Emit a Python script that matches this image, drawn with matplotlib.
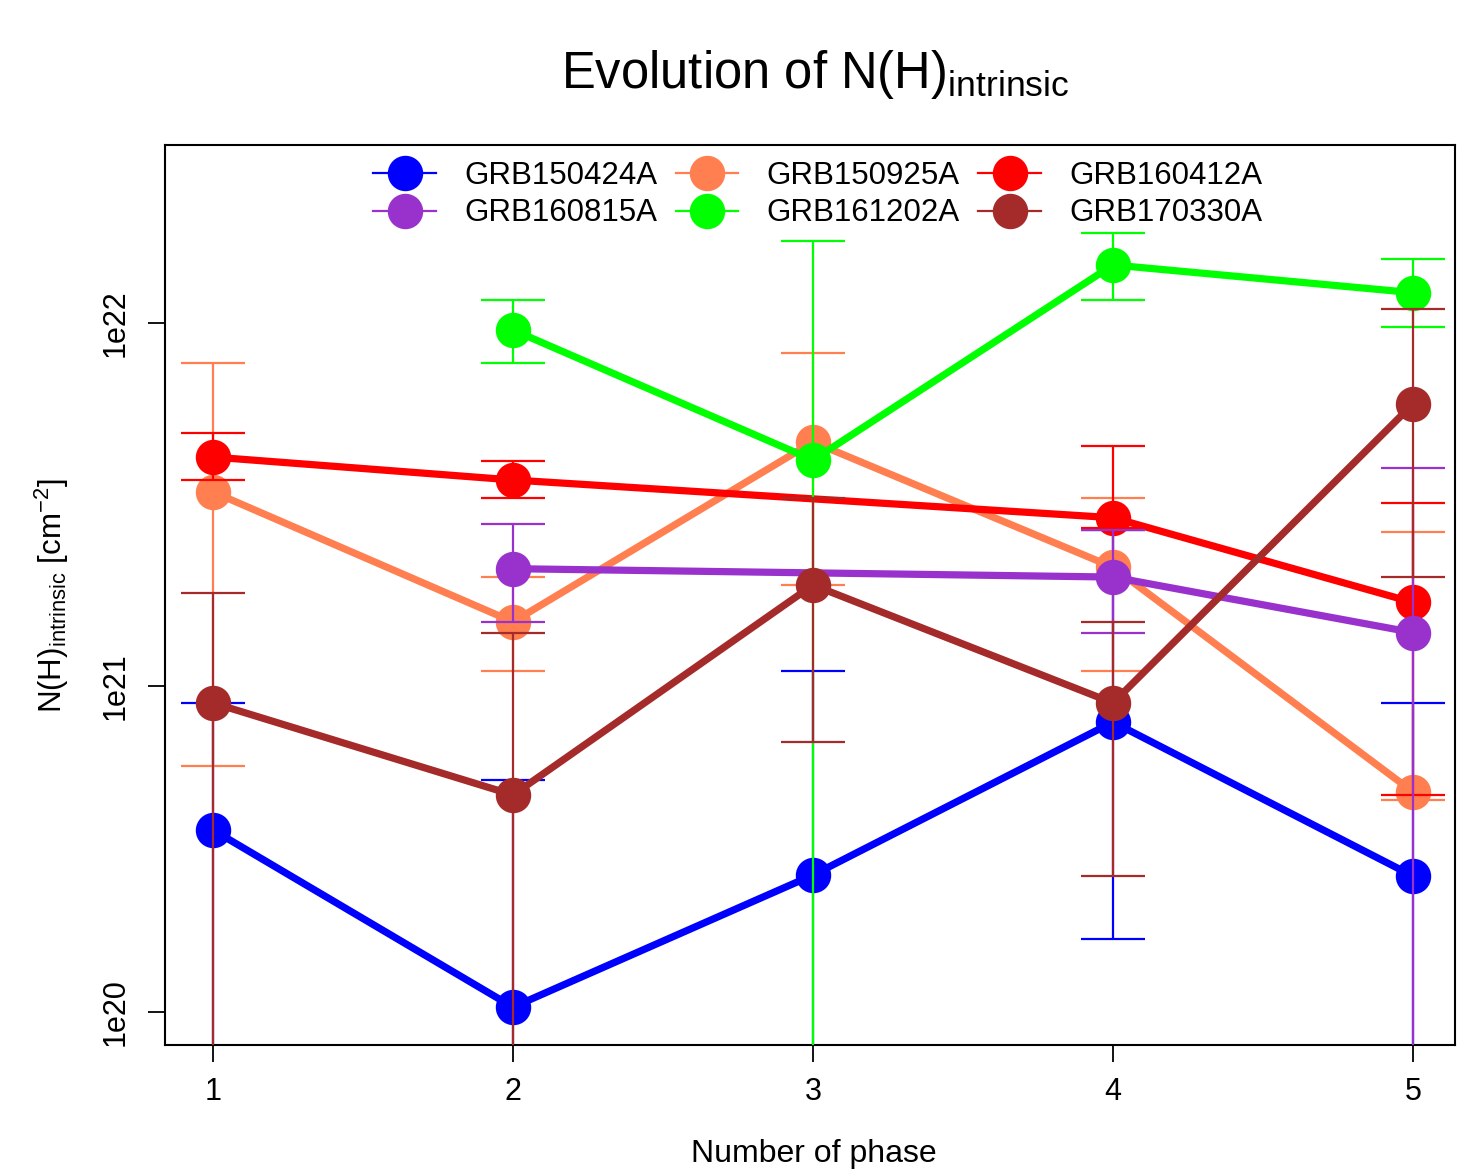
import numpy as np
import matplotlib
matplotlib.use("Agg")
import matplotlib.pyplot as plt
from matplotlib.lines import Line2D
from matplotlib.ticker import FixedLocator, NullLocator

plt.rcParams['font.family'] = ['Liberation Sans', 'DejaVu Sans']
plt.rcParams['mathtext.fontset'] = 'custom'
plt.rcParams['mathtext.rm'] = 'Liberation Sans'
plt.rcParams['mathtext.it'] = 'Liberation Sans:italic'
plt.rcParams['mathtext.bf'] = 'Liberation Sans:bold'

# ---------------- data ----------------
names = ["GRB150424A", "GRB150925A", "GRB160412A",
         "GRB160815A", "GRB161202A", "GRB170330A"]
colors = ["#0000FF", "#FF7F50", "#FF0000", "#9932CC", "#00FF00", "#A52A2A"]

phase_150424A = [1, 2, 3, 4, 5]
nh_150424A    = [3.85e20, 1.04e20, 2.82e20, 7.90e20, 2.80e20]
hi_150424A    = [8.95e20, 5.39e20, 1.10e21, 2.71e21, 8.95e20]
lo_150424A    = [0.0, 0.0, 0.0, 1.78e20, 0.0]

phase_150925A = [1, 2, 3, 4, 5]
nh_150925A    = [3.45e21, 1.51e21, 4.73e21, 2.14e21, 4.98e20]
hi_150925A    = [7.78e21, 2.01e21, 8.28e21, 3.32e21, 2.68e21]
lo_150925A    = [5.92e20, 1.10e21, 1.91e21, 1.10e21, 4.72e20]

phase_160412A = [1, 2, 4, 5]
nh_160412A    = [4.30e21, 3.72e21, 2.93e21, 1.71e21]
hi_160412A    = [5.00e21, 4.20e21, 4.61e21, 3.22e21]
lo_160412A    = [3.72e21, 3.32e21, 2.74e21, 4.88e20]

phase_160815A = [2, 4, 5]
nh_160815A    = [2.12e21, 2.01e21, 1.41e21]
hi_160815A    = [2.82e21, 2.71e21, 4.01e21]
lo_160815A    = [1.51e21, 1.41e21, 0.0]

phase_161202A = [2, 3, 4, 5]
nh_161202A    = [9.57e21, 4.22e21, 1.44e22, 1.21e22]
hi_161202A    = [1.155e22, 1.673e22, 1.759e22, 1.495e22]
lo_161202A    = [7.78e21, 0.0, 1.155e22, 9.75e21]

phase_170330A = [1, 2, 3, 4, 5]
nh_170330A    = [8.95e20, 4.88e20, 1.91e21, 8.95e20, 6.01e21]
hi_170330A    = [1.82e21, 1.41e21, 3.32e21, 1.51e21, 1.09e22]
lo_170330A    = [0.0, 0.0, 6.93e20, 2.80e20, 2.01e21]

series = [
    (phase_150424A, nh_150424A, hi_150424A, lo_150424A),
    (phase_150925A, nh_150925A, hi_150925A, lo_150925A),
    (phase_160412A, nh_160412A, hi_160412A, lo_160412A),
    (phase_160815A, nh_160815A, hi_160815A, lo_160815A),
    (phase_161202A, nh_161202A, hi_161202A, lo_161202A),
    (phase_170330A, nh_170330A, hi_170330A, lo_170330A),
]

xticks = [1, 2, 3, 4, 5]
yticks = [1e20, 1e21, 1e22]
yticklabels = ["1e20", "1e21", "1e22"]

# axis scale as drawn in the reference (log-like)
C_OFF = 3.43e19
def fwd(v):
    v = np.asarray(v, dtype=float)
    with np.errstate(invalid='ignore', divide='ignore'):
        return np.log10(np.maximum(v + C_OFF, 1e-300))
def inv(u):
    return 10.0 ** np.asarray(u, dtype=float) - C_OFF

# ---------------- figure ----------------
W, H = 1457, 1170
fig = plt.figure(figsize=(W / 100, H / 100), dpi=100)
ax = fig.add_axes([165 / W, (H - 1045) / H, 1290 / W, 900 / H])
ax.set_yscale('function', functions=(fwd, inv))

for i, ((x, y, hi, lo), c) in enumerate(zip(series, colors)):
    y = np.array(y); hi = np.array(hi); lo = np.array(lo)
    yerr = [y - lo, hi - y]
    ax.errorbar(x, y, yerr=yerr, fmt='o-', color=c, lw=5.2, ms=24.5,
                elinewidth=1.6, capsize=22.7, capthick=1.6,
                zorder=2 + i, clip_on=True)

ax.set_xlim(0.84, 5.14)
ax.set_ylim(7.48e19, 3.056e22)

ax.xaxis.set_major_locator(FixedLocator(xticks))
ax.set_xticklabels([str(t) for t in xticks])
ax.yaxis.set_major_locator(FixedLocator(yticks))
ax.yaxis.set_minor_locator(NullLocator())
ax.xaxis.set_minor_locator(NullLocator())
ax.set_yticklabels(yticklabels)

ax.tick_params(axis='both', direction='out', length=12, width=1.3,
               labelsize=22)
ax.tick_params(axis='x', pad=11)
ax.tick_params(axis='y', pad=12.5, labelrotation=90)
for lbl in ax.get_yticklabels():
    lbl.set_va('center')
for s in ax.spines.values():
    s.set_linewidth(1.5)

ax.set_xlabel("Number of phase", fontsize=23)
ax.xaxis.set_label_coords(0.503, -0.104)
ax.set_ylabel(r"N(H)$_{\mathrm{intrinsic}}$ [cm$^{\mathrm{-2}}$]", fontsize=22.5)
ax.yaxis.set_label_coords(-0.073, 0.499)

fig.text(815 / W, 1 - 88 / H, r"Evolution of N(H)$_{\mathrm{intrinsic}}$",
         fontsize=36.5, ha='center', va='baseline')

# legend (column-major fill)
order = [0, 3, 1, 4, 2, 5]
handles = [Line2D([], [], color=colors[k], lw=1.6, marker='o', ms=24.5)
           for k in order]
labels = [names[k] for k in order]
leg = ax.legend(handles, labels, ncol=3, loc='upper center',
                bbox_to_anchor=(0.506, 0.9965), frameon=False, fontsize=22.5,
                handlelength=2.0, handletextpad=0.9, columnspacing=0.6,
                labelspacing=0.25, borderaxespad=0.0)

fig.savefig("out.png", dpi=100)
